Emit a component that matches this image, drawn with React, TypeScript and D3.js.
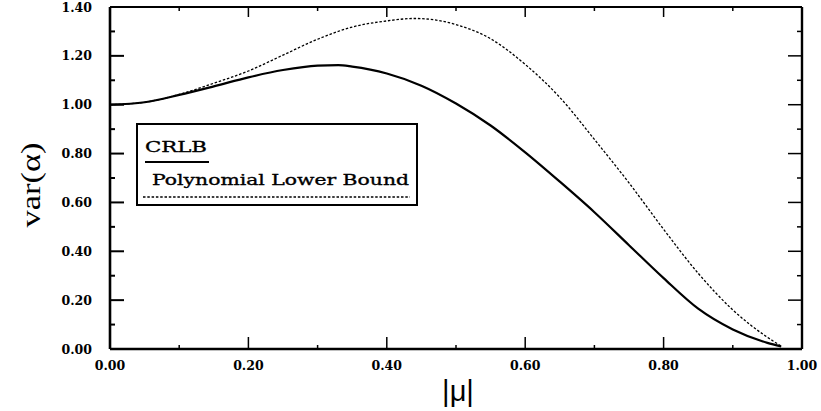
import React from "react";
import * as d3 from "d3";

const muValues = [0, 0.05, 0.1, 0.15, 0.2, 0.25, 0.3, 0.33, 0.35, 0.4, 0.45, 0.5, 0.55, 0.6, 0.65, 0.7, 0.75, 0.8, 0.85, 0.9, 0.95, 0.97];
const crlbValues = [1.0, 1.01, 1.04, 1.075, 1.112, 1.142, 1.16, 1.162, 1.156, 1.128, 1.078, 1.005, 0.915, 0.805, 0.685, 0.56, 0.425, 0.29, 0.165, 0.08, 0.025, 0.01];
const polyMu = [0, 0.05, 0.1, 0.15, 0.2, 0.25, 0.3, 0.35, 0.4, 0.44, 0.48, 0.5, 0.55, 0.6, 0.65, 0.7, 0.75, 0.8, 0.85, 0.9, 0.95, 0.97];
const polyValues = [1.0, 1.01, 1.042, 1.088, 1.138, 1.203, 1.268, 1.318, 1.343, 1.353, 1.342, 1.328, 1.27, 1.165, 1.03, 0.858, 0.68, 0.49, 0.31, 0.16, 0.048, 0.012];
const xTicks = [0, 0.2, 0.4, 0.6, 0.8, 1.0];
const xMinor = [0.1, 0.3, 0.5, 0.7, 0.9];
const yTicks = [0, 0.2, 0.4, 0.6, 0.8, 1.0, 1.2, 1.4];
const yMinor = [0.1, 0.3, 0.5, 0.7, 0.9, 1.1, 1.3];
const legendLabels = ["CRLB", "Polynomial Lower Bound"];

const W = 821;
const H = 411;
const left = 110;
const right = 802;
const top = 7;
const bottom = 349;

export default function App() {
  const x = d3.scaleLinear().domain([0, 1]).range([left, right]);
  const y = d3.scaleLinear().domain([0, 1.4]).range([bottom, top]);
  const line = d3
    .line<[number, number]>()
    .x((d) => x(d[0]))
    .y((d) => y(d[1]))
    .curve(d3.curveMonotoneX);
  const crlbPath = line(muValues.map((m, i) => [m, crlbValues[i]]) as [number, number][]) || "";
  const polyPath = line(polyMu.map((m, i) => [m, polyValues[i]]) as [number, number][]) || "";
  const tickFont = { fontFamily: "DejaVu Serif", fontWeight: 700, fontSize: 12.5 } as const;

  return (
    <svg
      width={W}
      height={H}
      style={{ position: "absolute", left: 0, top: 0, background: "#fff" }}
    >
      <rect x={0} y={0} width={W} height={H} fill="#fff" />
      {/* curves */}
      <path d={polyPath} fill="none" stroke="#000" strokeWidth={1.3} strokeDasharray="2.5,1.8" />
      <path d={crlbPath} fill="none" stroke="#000" strokeWidth={2.2} />

      {/* frame */}
      <line x1={left} x2={left} y1={top} y2={bottom} stroke="#000" strokeWidth={2.6} />
      <line x1={left} x2={right} y1={bottom} y2={bottom} stroke="#000" strokeWidth={2.4} />
      <line x1={left} x2={right} y1={top} y2={top} stroke="#000" strokeWidth={2.2} />
      <line x1={right} x2={right} y1={top} y2={bottom} stroke="#000" strokeWidth={2.4} />

      {/* y ticks */}
      {yTicks.map((t) => (
        <g key={"y" + t}>
          <line x1={left} x2={left + 14} y1={y(t)} y2={y(t)} stroke="#000" strokeWidth={2} />
          <line x1={right} x2={right - 14} y1={y(t)} y2={y(t)} stroke="#000" strokeWidth={1.5} />
          <text x={92} y={y(t)} dy="0.36em" textAnchor="end" {...tickFont}>
            {t.toFixed(2)}
          </text>
        </g>
      ))}
      {yMinor.map((t) => (
        <g key={"ym" + t}>
          <line x1={left} x2={left + 5} y1={y(t)} y2={y(t)} stroke="#000" strokeWidth={2} />
          <line x1={right} x2={right - 5} y1={y(t)} y2={y(t)} stroke="#000" strokeWidth={1.5} />
        </g>
      ))}

      {/* x ticks */}
      {xTicks.map((t) => (
        <g key={"x" + t}>
          <line x1={x(t)} x2={x(t)} y1={bottom} y2={bottom - 12} stroke="#000" strokeWidth={1.5} />
          <line x1={x(t)} x2={x(t)} y1={top} y2={top + 10} stroke="#000" strokeWidth={1.5} />
          <text x={x(t)} y={370} textAnchor="middle" {...tickFont}>
            {t.toFixed(2)}
          </text>
        </g>
      ))}
      {xMinor.map((t) => (
        <g key={"xm" + t}>
          <line x1={x(t)} x2={x(t)} y1={bottom} y2={bottom - 4} stroke="#000" strokeWidth={1.5} />
          <line x1={x(t)} x2={x(t)} y1={top} y2={top + 4} stroke="#000" strokeWidth={1.5} />
        </g>
      ))}

      {/* axis labels */}
      <text
        transform="translate(40,185) rotate(-90)"
        textAnchor="middle"
        fontFamily="Liberation Serif"
        fontSize={28}
        textLength={85}
        lengthAdjust="spacingAndGlyphs"
      >
        var(α)
      </text>
      <text
        x={458}
        y={401}
        textAnchor="middle"
        fontFamily="Liberation Sans"
        fontSize={29}
      >
        |μ|
      </text>

      {/* legend */}
      <rect x={137} y={124} width={280} height={81} fill="#fff" stroke="#000" strokeWidth={2} />
      <text x={145} y={152} fontFamily="DejaVu Serif" fontSize={15} textLength={62} lengthAdjust="spacingAndGlyphs" stroke="#000" strokeWidth={0.35}>
        {legendLabels[0]}
      </text>
      <line x1={145} x2={209} y1={162} y2={162} stroke="#000" strokeWidth={2.2} />
      <text x={152} y={185} fontFamily="DejaVu Serif" fontSize={15} textLength={257} lengthAdjust="spacingAndGlyphs" stroke="#000" strokeWidth={0.35}>
        {legendLabels[1]}
      </text>
      <line x1={143} x2={410} y1={197} y2={197} stroke="#000" strokeWidth={1.3} strokeDasharray="2.5,1.8" />
    </svg>
  );
}
